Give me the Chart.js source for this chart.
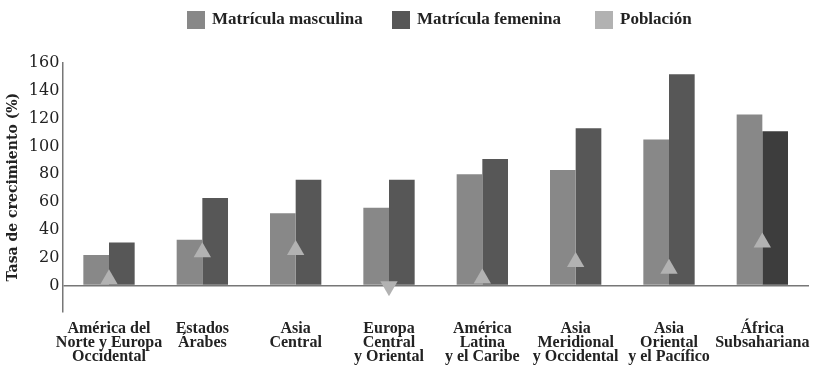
<!DOCTYPE html>
<html>
<head>
<meta charset="utf-8">
<script src="https://cdn.jsdelivr.net/npm/chart.js@4.4.1/dist/chart.umd.min.js"></script>
<style>
  html, body { margin: 0; padding: 0; background: #fff; }
  #wrap { position: relative; width: 820px; height: 367px; }
  #leyenda span { position: absolute; }
  #leyenda .caja { width: 18px; height: 18px; top: 11px; }
  #leyenda .txt {
    top: 9px; line-height: 22px; white-space: nowrap;
    font: bold 17px 'Liberation Serif', serif; color: #222;
  }
</style>
</head>
<body>
<div id="wrap">
  <canvas id="grafico" width="820" height="367"></canvas>
  <div id="leyenda"></div>
</div>
<script>
// regiones (etiquetas en varias líneas)
const regiones = [
    ['América del', 'Norte y Europa', 'Occidental'],
    ['Estados', 'Árabes'],
    ['Asia', 'Central'],
    ['Europa', 'Central', 'y Oriental'],
    ['América', 'Latina', 'y el Caribe'],
    ['Asia', 'Meridional', 'y Occidental'],
    ['Asia', 'Oriental', 'y el Pacífico'],
    ['África', 'Subsahariana']
];
const series = ['Matrícula masculina', 'Matrícula femenina', 'Población'];
const matriculaMasculina = [22, 33, 52, 56, 80, 83, 105, 123];
const matriculaFemenina = [31, 63, 76, 76, 91, 113, 152, 111];
const poblacion = [4.5, 24, 25.5, -0.5, 5, 17, 12, 31];
const ticksY = [0, 20, 40, 60, 80, 100, 120, 140, 160];

const colores = ['#888888', '#575757', '#b2b2b2'];

// leyenda en html (posiciones tomadas del original)
const posLeyenda = [187, 392, 595];
const leyenda = document.getElementById('leyenda');
series.forEach((nombre, i) => {
    const caja = document.createElement('span');
    caja.className = 'caja';
    caja.style.left = posLeyenda[i] + 'px';
    caja.style.background = colores[i];
    const txt = document.createElement('span');
    txt.className = 'txt';
    txt.style.left = (posLeyenda[i] + 25) + 'px';
    txt.textContent = nombre;
    leyenda.appendChild(caja);
    leyenda.appendChild(txt);
});

const ctx = document.getElementById('grafico').getContext('2d');
new Chart(ctx, {
    type: 'bar',
    data: {
        labels: regiones,
        datasets: [{
            label: series[0],
            data: matriculaMasculina,
            backgroundColor: colores[0],
            borderWidth: 0,
            order: 2
        }, {
            label: series[1],
            data: matriculaFemenina,
            // la última barra es algo más oscura en el original
            backgroundColor: matriculaFemenina.map((v, i) => i === matriculaFemenina.length - 1 ? '#3d3d3d' : colores[1]),
            borderWidth: 0,
            order: 2
        }, {
            type: 'line',
            label: series[2],
            data: poblacion,
            showLine: false,
            backgroundColor: colores[2],
            borderColor: colores[2],
            pointStyle: 'triangle',
            pointRadius: 10,
            pointHoverRadius: 10,
            pointBorderWidth: 0,
            pointRotation: poblacion.map(v => v < 0 ? 180 : 0),
            order: 1
        }]
    },
    options: {
        responsive: false,
        animation: false,
        layout: { padding: { top: 63, left: 5, right: 11, bottom: 1 } },
        datasets: { bar: { barPercentage: 1, categoryPercentage: 0.55 } },
        scales: {
            x: {
                grid: { display: false },
                border: { display: false },
                ticks: {
                    color: '#222',
                    padding: 2,
                    maxRotation: 0,
                    autoSkip: false,
                    font: { family: 'Liberation Serif', weight: 'bold', size: 16, lineHeight: 0.89 }
                }
            },
            y: {
                min: -18.5,
                max: 160,
                afterBuildTicks: axis => { axis.ticks = ticksY.map(v => ({ value: v })); },
                grid: {
                    drawTicks: false,
                    color: c => c.tick && c.tick.value === 0 ? '#777' : 'rgba(0,0,0,0)',
                    lineWidth: 1.5
                },
                border: { display: true, color: '#777', width: 1.5 },
                ticks: {
                    color: '#222',
                    padding: 3,
                    font: { family: 'DejaVu Serif', size: 16 }
                },
                title: {
                    display: true,
                    text: 'Tasa de crecimiento (%)',
                    color: '#222',
                    padding: { top: 0, bottom: 4 },
                    font: { family: 'DejaVu Serif', weight: 'bold', size: 14 }
                }
            }
        },
        plugins: {
            legend: { display: false },
            tooltip: { enabled: false }
        }
    }
});
</script>
</body>
</html>
